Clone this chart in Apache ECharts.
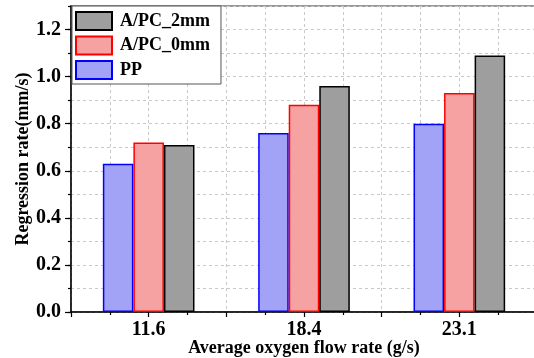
<!DOCTYPE html>
<html>
<head>
<meta charset="utf-8">
<script src="https://cdn.jsdelivr.net/npm/echarts@6/dist/echarts.min.js"></script>
<style>html,body{margin:0;padding:0;background:#fff}#c{width:534px;height:358px}</style>
</head>
<body>
<div id="c"></div>
<script>
const categories = ['11.6', '18.4', '23.1'];
const ppValues = [0.63, 0.76, 0.80];
const apc0Values = [0.72, 0.88, 0.93];
const apc2Values = [0.71, 0.96, 1.09];
const yTickLabels = ['0.0', '0.2', '0.4', '0.6', '0.8', '1.0', '1.2'];
const yTickValues = yTickLabels.map(Number);

const FONT = '"Liberation Serif", "Times New Roman", serif';
const chart = echarts.init(document.getElementById('c'), null, {renderer: 'canvas'});

const dashed = {show: true, lineStyle: {color: '#c8c8c8', type: [3, 3], width: 1}};

chart.setOption({
  animation: false,
  backgroundColor: '#fff',
  grid: {left: 71, top: 6, width: 466, bottom: 46, show: true, borderColor: '#777', borderWidth: 1.5,
    backgroundColor: 'transparent', containLabel: false, outerBoundsMode: 'none'},
  legend: {
    data: ['A/PC_2mm', 'A/PC_0mm', 'PP'],
    orient: 'vertical', left: 72, top: 6, icon: 'rect',
    itemWidth: 36, itemHeight: 18, itemGap: 4.5,
    padding: [5, 11, 4, 3],
    backgroundColor: '#fff', borderColor: '#555', borderWidth: 1,
    textStyle: {fontFamily: FONT, fontWeight: 'bold', fontSize: 18, color: '#000', padding: [0, 0, 0, 3]},
    z: 10
  },
  xAxis: [
    {
      type: 'category', data: categories, gridIndex: 0,
      axisLine: {show: true, lineStyle: {color: '#000', width: 1.5}},
      axisTick: {show: false},
      splitLine: {show: false},
      axisLabel: {fontFamily: FONT, fontWeight: 'bold', fontSize: 20, color: '#000', margin: 8},
      name: 'Average oxygen flow rate (g/s)', nameLocation: 'middle', nameGap: 27, nameMoveOverlap: false,
      nameTextStyle: {fontFamily: FONT, fontWeight: 'bold', fontSize: 18, color: '#000'}
    },
    {
      type: 'value', min: 0, max: 3, interval: 0.5, gridIndex: 0, position: 'bottom',
      axisLine: {show: false},
      axisLabel: {show: false},
      axisTick: {show: true, length: 5, lineStyle: {color: '#000', width: 1.2}},
      minorTick: {show: true, splitNumber: 2, length: 3, lineStyle: {color: '#000', width: 1.2}},
      splitLine: dashed,
      minorSplitLine: dashed
    }
  ],
  yAxis: [
    {
      type: 'value', min: 0, max: 1.3, interval: 0.1,
      axisLine: {show: true, lineStyle: {color: '#000', width: 1.5}},
      axisTick: {show: true, length: 3, lineStyle: {color: '#000', width: 1.2}},
      splitLine: dashed,
      axisLabel: {
        fontFamily: FONT, fontWeight: 'bold', fontSize: 20, color: '#000', margin: 10,
        formatter: function (v) { const s = v.toFixed(1); return yTickLabels.indexOf(s) >= 0 ? s : ''; }
      },
      name: 'Regression rate(mm/s)', nameLocation: 'middle', nameGap: 39, nameMoveOverlap: false,
      nameTextStyle: {fontFamily: FONT, fontWeight: 'bold', fontSize: 18, color: '#000'}
    },
    {
      type: 'value', min: 0, max: 1.3, interval: 0.2, position: 'left',
      axisLine: {show: false},
      axisLabel: {show: false},
      splitLine: {show: false},
      axisTick: {show: true, length: 6, customValues: yTickValues, lineStyle: {color: '#000', width: 1.2}}
    }
  ],
  series: [
    {name: 'PP', type: 'bar', data: ppValues, barGap: '0%', barCategoryGap: '41%',
      itemStyle: {color: '#a2a2f6', borderColor: '#0000ff', borderWidth: 1.5}},
    {name: 'A/PC_0mm', type: 'bar', data: apc0Values, barGap: '0%', barCategoryGap: '41%',
      itemStyle: {color: '#f7a2a2', borderColor: '#ff0000', borderWidth: 1.5}},
    {name: 'A/PC_2mm', type: 'bar', data: apc2Values, barGap: '0%', barCategoryGap: '41%',
      itemStyle: {color: '#9e9e9e', borderColor: '#000000', borderWidth: 1.5}}
  ]
});
</script>
</body>
</html>
